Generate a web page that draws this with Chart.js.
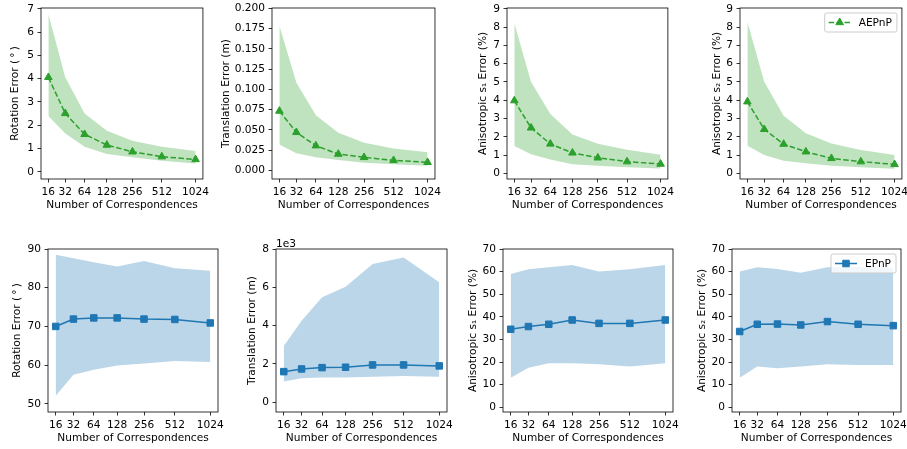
<!DOCTYPE html>
<html>
<head>
<meta charset="utf-8">
<script src="https://cdn.jsdelivr.net/npm/chart.js@4.4.1/dist/chart.umd.min.js"></script>
<style>
  html, body { margin: 0; padding: 0; background: #fff; overflow: hidden; }
  #fig { position: relative; width: 907px; height: 449px; overflow: hidden; }
  #fig canvas { position: absolute; }
</style>
</head>
<body>
<div id="fig"></div>
<script>
// number of correspondences (x axis)
const nCorr = [16, 32, 64, 128, 256, 512, 1024];

// AEPnP (top row): mean, upper and lower edge of the shaded band
const aeRotMean = [4.06, 2.51, 1.61, 1.15, 0.86, 0.65, 0.53];
const aeRotUpper = [6.78, 4.06, 2.51, 1.76, 1.33, 1.08, 0.89];
const aeRotLower = [2.4, 1.65, 1.08, 0.76, 0.62, 0.47, 0.36];

const aeTransMean = [0.0732, 0.0469, 0.0304, 0.0201, 0.016, 0.0123, 0.0099];
const aeTransUpper = [0.1785, 0.108, 0.068, 0.0464, 0.034, 0.027, 0.0222];
const aeTransLower = [0.032, 0.021, 0.016, 0.0127, 0.0094, 0.0074, 0.0057];

const aeS1Mean = [3.98, 2.49, 1.61, 1.12, 0.85, 0.64, 0.51];
const aeS1Upper = [8.21, 5.0, 3.25, 2.12, 1.62, 1.29, 1.02];
const aeS1Lower = [1.5, 1.05, 0.76, 0.5, 0.41, 0.33, 0.27];

const aeS2Mean = [3.92, 2.41, 1.6, 1.18, 0.82, 0.64, 0.49];
const aeS2Upper = [8.3, 5.02, 3.15, 2.19, 1.64, 1.28, 1.0];
const aeS2Lower = [1.51, 1.0, 0.69, 0.55, 0.42, 0.33, 0.25];

// EPnP (bottom row)
const epRotMean = [70.0, 71.9, 72.2, 72.2, 71.9, 71.8, 70.9];
const epRotUpper = [88.5, 87.6, 86.6, 85.5, 86.9, 85.0, 84.4];
const epRotLower = [52.1, 57.5, 58.8, 59.9, 60.4, 61.1, 60.8];

const epTransMean = [1600, 1740, 1810, 1830, 1950, 1950, 1900];
const epTransUpper = [2940, 4260, 5480, 6030, 7220, 7550, 6260];
const epTransLower = [1080, 1250, 1300, 1300, 1340, 1370, 1340];

const epS1Mean = [34.5, 35.7, 36.7, 38.6, 37.1, 37.1, 38.6];
const epS1Upper = [58.9, 61.0, 61.9, 62.9, 60.0, 61.0, 62.9];
const epS1Lower = [13.1, 17.5, 19.5, 19.5, 19.0, 18.0, 19.5];

const epS2Mean = [33.5, 36.7, 36.8, 36.4, 37.9, 36.7, 36.1];
const epS2Upper = [60.0, 61.9, 61.2, 59.5, 61.9, 62.0, 61.6];
const epS2Lower = [13.1, 18.0, 17.2, 18.0, 19.0, 18.7, 18.7];

// y tick labels
const yTicksAeRot = [0, 1, 2, 3, 4, 5, 6, 7];
const yTicksAeTrans = [0, 0.025, 0.05, 0.075, 0.1, 0.125, 0.15, 0.175, 0.2];
const yTicksAeScale = [0, 1, 2, 3, 4, 5, 6, 7, 8, 9];
const yTicksEpRot = [50, 60, 70, 80, 90];
const yTicksEpTrans = [0, 2000, 4000, 6000, 8000];
const yTicksEpScale = [0, 10, 20, 30, 40, 50, 60, 70];

const FONT = { family: 'DejaVu Sans', size: 10.6 };
Chart.defaults.font.family = FONT.family;
Chart.defaults.font.size = FONT.size;
Chart.defaults.color = '#000';

// x axis spacing in the figure follows n^0.2
const X_POWER = 0.2;
class RootScale extends Chart.LinearScale {
    static id = 'root';
    getPixelForValue(value) {
        const a = Math.pow(this.min, X_POWER), b = Math.pow(this.max, X_POWER);
        return this.getPixelForDecimal((Math.pow(value, X_POWER) - a) / (b - a));
    }
    getValueForPixel(pixel) {
        const a = Math.pow(this.min, X_POWER), b = Math.pow(this.max, X_POWER);
        return Math.pow(a + this.getDecimalForPixel(pixel) * (b - a), 1 / X_POWER);
    }
}
Chart.register(RootScale);

const tLo = Math.pow(nCorr[0], X_POWER);
const tHi = Math.pow(nCorr[nCorr.length - 1], X_POWER);
const tPad = 0.05 * (tHi - tLo);
const xMin = Math.pow(tLo - tPad, 1 / X_POWER);
const xMax = Math.pow(tHi + tPad, 1 / X_POWER);

// full box around the axes, like matplotlib spines
const framePlugin = {
    id: 'frame',
    afterDatasetsDraw(chart) {
        const { ctx, chartArea: a } = chart;
        ctx.save();
        ctx.strokeStyle = '#000';
        ctx.lineWidth = 0.8;
        ctx.strokeRect(a.left, a.top, a.right - a.left, a.bottom - a.top);
        ctx.restore();
    }
};

// "1e3" offset label above the axis
const offsetTextPlugin = {
    id: 'offsetText',
    afterDraw(chart, args, opts) {
        if (!opts || !opts.text) return;
        const { ctx, chartArea: a } = chart;
        ctx.save();
        ctx.font = '10.6px "DejaVu Sans"';
        ctx.fillStyle = '#000';
        ctx.textBaseline = 'alphabetic';
        ctx.fillText(opts.text, a.left, a.top - 2.5);
        ctx.restore();
    }
};

// small legend box in the upper right corner
const miniLegendPlugin = {
    id: 'miniLegend',
    afterDraw(chart, args, opts) {
        if (!opts || !opts.label) return;
        const { ctx, chartArea: a } = chart;
        ctx.save();
        ctx.font = '10.6px "DejaVu Sans"';
        const tw = ctx.measureText(opts.label).width;
        const w = 34 + tw + 5, h = 19;
        const x = a.right - 5 - w, y = a.top + 5;
        ctx.beginPath();
        ctx.roundRect(x, y, w, h, 2);
        ctx.fillStyle = 'rgba(255,255,255,0.8)';
        ctx.fill();
        ctx.strokeStyle = '#cccccc';
        ctx.lineWidth = 1;
        ctx.stroke();
        const cy = y + h / 2;
        ctx.strokeStyle = opts.color;
        ctx.lineWidth = 1.5;
        ctx.setLineDash(opts.dash || []);
        ctx.beginPath();
        ctx.moveTo(x + 4, cy);
        ctx.lineTo(x + 26, cy);
        ctx.stroke();
        ctx.setLineDash([]);
        ctx.fillStyle = opts.color;
        ctx.lineWidth = 1;
        Chart.helpers.drawPoint(ctx, { pointStyle: opts.pointStyle, radius: opts.radius, rotation: 0, borderWidth: 1 }, x + 15, cy);
        ctx.fillStyle = '#000';
        ctx.textBaseline = 'middle';
        ctx.fillText(opts.label, x + 34, cy + 0.5);
        ctx.restore();
    }
};
Chart.register(framePlugin, offsetTextPlugin, miniLegendPlugin);

const AE = { color: '#2ca02c', band: 'rgba(44,160,44,0.3)', dash: [5.5, 2.4], pointStyle: 'triangle', radius: 4.4, label: 'AEPnP' };
const EP = { color: '#1f77b4', band: 'rgba(31,119,180,0.3)', dash: [], pointStyle: 'rect', radius: 4.6, label: 'EPnP' };

const plain = v => String(v);
const rotTitle = 'Rotation Error (\u2009°\u2009)';

const panels = [
    { rect: [41, 8, 203, 179], titleX: 15, title: rotTitle, s: AE, mean: aeRotMean, upper: aeRotUpper, lower: aeRotLower, yMin: -0.31, yMax: 7.04, yTicks: yTicksAeRot, fmt: plain },
    { rect: [272, 8, 435, 179], titleX: 226, title: 'Translation Error (m)', s: AE, mean: aeTransMean, upper: aeTransUpper, lower: aeTransLower, yMin: -0.0107, yMax: 0.2004, yTicks: yTicksAeTrans, fmt: v => v.toFixed(3) },
    { rect: [507, 8, 668, 179], titleX: 483, title: 'Anisotropic s₁ Error (%)', s: AE, mean: aeS1Mean, upper: aeS1Upper, lower: aeS1Lower, yMin: -0.31, yMax: 9.05, yTicks: yTicksAeScale, fmt: plain },
    { rect: [740, 8, 902, 179], titleX: 717, title: 'Anisotropic s₂ Error (%)', s: AE, mean: aeS2Mean, upper: aeS2Upper, lower: aeS2Lower, yMin: -0.31, yMax: 9.05, yTicks: yTicksAeScale, fmt: plain, legend: true },
    { rect: [48, 249, 218, 412], titleX: 17, title: rotTitle, s: EP, mean: epRotMean, upper: epRotUpper, lower: epRotLower, yMin: 47.9, yMax: 90, yTicks: yTicksEpRot, fmt: plain },
    { rect: [276, 249, 447, 412], titleX: 252, title: 'Translation Error (m)', s: EP, mean: epTransMean, upper: epTransUpper, lower: epTransLower, yMin: -506, yMax: 8000, yTicks: yTicksEpTrans, fmt: v => String(v / 1000), offsetText: '1e3' },
    { rect: [503, 249, 673, 412], titleX: 473, title: 'Anisotropic s₁ Error (%)', s: EP, mean: epS1Mean, upper: epS1Upper, lower: epS1Lower, yMin: -2.1, yMax: 70, yTicks: yTicksEpScale, fmt: plain },
    { rect: [732, 249, 901, 412], titleX: 702, title: 'Anisotropic s₂ Error (%)', s: EP, mean: epS2Mean, upper: epS2Upper, lower: epS2Lower, yMin: -2.1, yMax: 70, yTicks: yTicksEpScale, fmt: plain, legend: true }
];

const toPoints = arr => nCorr.map((n, i) => ({ x: n, y: arr[i] }));

function makePanel(p) {
    const [L, T, R, B] = p.rect;
    const left = p.titleX - 6, top = T - 12;
    const width = R + 10 - left, height = B + 33 - top;
    const canvas = document.createElement('canvas');
    canvas.width = width;
    canvas.height = height;
    canvas.style.left = left + 'px';
    canvas.style.top = top + 'px';
    canvas.style.width = width + 'px';
    canvas.style.height = height + 'px';
    document.getElementById('fig').appendChild(canvas);

    const tickGrid = { drawOnChartArea: false, tickLength: 3.5, tickWidth: 0.8, tickColor: '#000' };
    const s = p.s;

    new Chart(canvas, {
        type: 'line',
        data: {
            datasets: [
                {
                    data: toPoints(p.mean),
                    borderColor: s.color,
                    backgroundColor: s.color,
                    borderWidth: 1.5,
                    borderDash: s.dash,
                    pointStyle: s.pointStyle,
                    pointRadius: s.radius,
                    pointBorderWidth: 1,
                    pointBorderColor: s.color,
                    pointBackgroundColor: s.color,
                    tension: 0,
                    fill: false,
                    order: 0
                },
                {
                    data: toPoints(p.upper),
                    borderColor: 'rgba(0,0,0,0)',
                    borderWidth: 0,
                    pointRadius: 0,
                    backgroundColor: s.band,
                    fill: '+1',
                    order: 1
                },
                {
                    data: toPoints(p.lower),
                    borderColor: 'rgba(0,0,0,0)',
                    borderWidth: 0,
                    pointRadius: 0,
                    fill: false,
                    order: 2
                }
            ]
        },
        options: {
            responsive: false,
            animation: false,
            devicePixelRatio: 1,
            layout: { padding: { left: 0, top: T - top, right: 10, bottom: 0 } },
            plugins: {
                legend: { display: false },
                tooltip: { enabled: false },
                offsetText: p.offsetText ? { text: p.offsetText } : false,
                miniLegend: p.legend ? { label: s.label, color: s.color, dash: s.dash, pointStyle: s.pointStyle, radius: s.radius } : false
            },
            scales: {
                x: {
                    type: 'root',
                    min: xMin,
                    max: xMax,
                    bounds: 'data',
                    afterBuildTicks: sc => { sc.ticks = nCorr.map(v => ({ value: v })); },
                    afterFit: sc => { sc.height = 33; },
                    ticks: { autoSkip: false, maxRotation: 0, minRotation: 0, padding: 3.5, color: '#000', font: FONT, callback: v => String(v) },
                    grid: tickGrid,
                    border: { display: false },
                    title: { display: true, text: 'Number of Correspondences', padding: 0, color: '#000', font: FONT }
                },
                y: {
                    type: 'linear',
                    min: p.yMin,
                    max: p.yMax,
                    bounds: 'data',
                    afterBuildTicks: sc => { sc.ticks = p.yTicks.map(v => ({ value: v })); },
                    afterFit: sc => { sc.width = L - left; },
                    ticks: { autoSkip: false, padding: 3.5, color: '#000', font: FONT, callback: v => p.fmt(v) },
                    grid: tickGrid,
                    border: { display: false },
                    title: { display: true, text: p.title, padding: 0, color: '#000', font: FONT }
                }
            }
        }
    });
}

panels.forEach(makePanel);
</script>
</body>
</html>
